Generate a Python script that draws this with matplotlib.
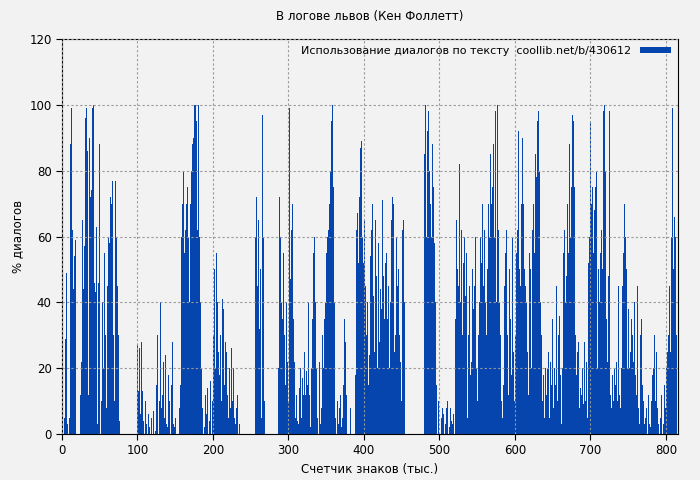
import matplotlib
matplotlib.use("Agg")
import matplotlib.pyplot as plt
import numpy as np

title = "В логове львов (Кен Фоллетт)"
legend_label = "Использование диалогов по тексту  coollib.net/b/430612"
xlabel = "Счетчик знаков (тыс.)"
ylabel = "% диалогов"

# one value per thousand characters, rows of ten
vals_000 = [0,0,5,5,29,49,44,3,0,5, 42,88,99,62,51,44,54,59,30,0, 0,0,3,0,12,22,46,65,44,57,
            44,96,99,86,57,12,90,72,73,74, 99,100,86,46,43,63,32,3,46,88, 73,90,10,40,20,10,55,30,8,12,
            45,60,58,66,72,70,77,63,30,10, 77,69,60,45,30,10,4,0,0,0, 0,0,0,0,0,0,0,3,0,0,
            0,0,0,0,0,3,0,0,0,13]
vals_100 = [27,13,26,6,20,28,13,4,0,0, 10,3,0,0,6,2,12,0,5,0, 0,7,0,1,4,15,30,0,3,10,
            40,8,25,12,22,5,16,24,3,2, 25,18,10,0,22,15,28,3,18,2, 5,0,0,0,0,8,15,35,60,70,
            80,40,55,62,70,66,75,60,40,88, 70,80,88,98,90,100,100,100,95,62, 100,90,60,40,20,15,8,0,2,10,
            12,6,14,9,0,4,16,22,0,10]
vals_200 = [30,65,50,20,55,40,45,25,18,30, 22,10,41,38,30,15,28,25,3,12, 5,20,15,8,26,10,12,20,5,3,
            15,8,12,0,5,3,0,0,0,0, 0,0,0,0,0,0,0,0,0,0, 0,0,0,0,0,30,60,72,45,97,
            65,32,50,20,5,97,60,30,10,0, 0,0,0,0,0,0,0,0,0,0, 0,0,0,0,0,0,20,45,72,60,
            40,22,35,55,30,60,15,40,22,8]
vals_300 = [10,99,47,30,62,70,35,22,10,5, 12,4,8,3,14,20,10,5,17,12, 11,25,12,19,28,15,40,12,6,2,
            20,35,52,55,60,40,30,20,5,0, 10,22,3,8,12,30,20,35,52,40, 55,60,75,62,70,80,95,100,100,75,
            40,30,5,0,10,22,3,8,12,30, 2,5,15,10,35,28,12,4,0,0, 0,0,8,0,0,0,0,0,18,28,
            62,67,52,38,72,87,89,22,60,52]
vals_400 = [65,80,45,30,40,10,15,24,54,62, 78,70,42,25,45,65,48,20,30,58, 28,44,62,38,71,48,20,35,52,55,
            30,35,45,20,55,40,65,72,63,70, 25,30,40,60,45,50,62,30,22,10, 48,62,65,40,30,0,0,0,0,0,
            0,0,0,0,0,0,0,0,0,0, 0,0,0,0,0,0,0,0,0,25, 85,100,60,100,92,98,80,90,70,60,
            88,85,75,58,40,10,15,0,10,0]
vals_500 = [0,0,5,10,8,6,0,10,3,8, 10,0,5,2,8,4,0,3,6,0, 20,35,65,50,72,45,82,40,28,62,
            30,52,78,60,42,55,25,5,30,45, 12,18,22,50,8,38,45,60,40,20, 10,30,15,40,60,52,62,70,45,62,
            40,62,30,50,70,45,60,85,70,60, 75,88,60,95,98,40,100,80,62,40, 30,18,10,5,15,20,45,55,62,10,
            30,12,50,20,35,18,60,40,25,10]
vals_600 = [30,48,55,62,92,72,50,45,70,30, 90,70,50,45,62,40,25,12,70,55, 50,20,40,62,70,55,80,85,78,95,
            100,98,80,40,55,30,10,18,3,5, 20,12,30,20,25,5,40,22,15,35, 50,8,20,15,40,45,10,30,25,36,
            18,3,20,45,55,62,40,60,48,70, 55,62,88,60,75,90,97,95,75,60, 30,18,25,10,28,8,14,5,12,20,
            9,15,28,10,22,20,5,52,60,82]
vals_700 = [95,70,75,100,55,68,75,60,80,20, 50,72,40,55,62,50,70,98,100,80, 40,35,22,48,100,98,12,8,25,18,
            10,20,40,15,22,10,30,45,12,8, 5,20,45,55,82,70,60,50,45,20, 38,20,12,25,35,30,8,22,40,18,
            25,12,45,8,3,12,30,35,15,22, 10,3,5,6,8,0,12,4,3,2, 10,22,18,20,30,45,10,25,8,5,
            3,0,5,8,12,0,3,10,15,8]
vals_800 = [20,53,25,30,45,72,25,60,99,100, 50,66,60,39,30]

vals = np.array(vals_000+vals_100+vals_200+vals_300+vals_400+vals_500+vals_600+vals_700+vals_800, dtype=float)
x = np.arange(len(vals))

bar_color = "#0645ad"
fig = plt.figure(figsize=(7,4.8), dpi=100)
fig.patch.set_facecolor("#f2f2f2")
ax = fig.add_axes([62/700, 1-434/480, 616/700, 395/480])
ax.set_facecolor("#f2f2f2")
ax.bar(x+0.5, vals, width=1.0, color=bar_color, linewidth=0, label=legend_label)
ax.set_xlim(0, 816)
ax.set_ylim(0, 120)
ax.set_xticks(range(0, 801, 100))
ax.set_yticks(range(0, 121, 20))
ax.grid(True, color="#999999", linestyle=(0,(2,2)), linewidth=0.8)
ax.set_axisbelow(False)
for s in ax.spines.values():
    s.set_color("black")
ax.tick_params(labelsize=8.5, direction="out", length=4)
ax.set_title(title, fontsize=8.5, pad=14)
ax.set_xlabel(xlabel, fontsize=8.5)
ax.set_ylabel(ylabel, fontsize=8.5)
leg = ax.legend(loc="upper right", fontsize=8, frameon=False, markerfirst=False,
                handlelength=2.8, handleheight=0.5, borderaxespad=0.2)
fig.savefig("out.png", dpi=100, facecolor=fig.get_facecolor())
